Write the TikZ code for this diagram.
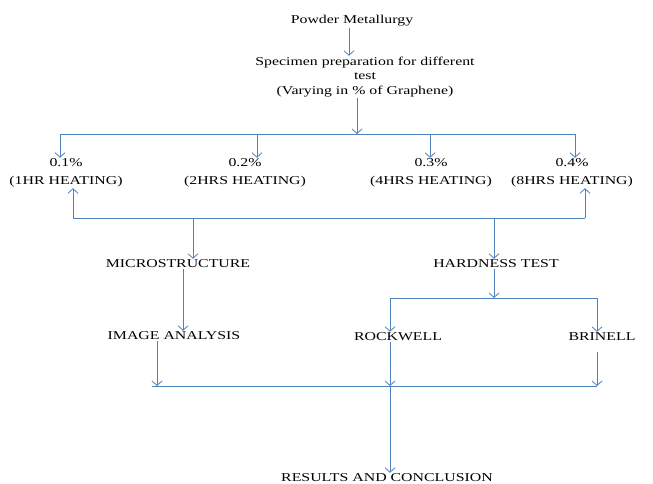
\documentclass[tikz,border=0pt]{standalone}
\usepackage{fontspec}
\setmainfont{Liberation Serif}[FakeStretch=1.32]
\usepackage{xcolor}
\usetikzlibrary{arrows.meta,positioning}
\definecolor{lineblue}{RGB}{79,129,189}

\begin{document}
\begin{tikzpicture}[
  x=1pt, y=-1pt,
  txt/.style={align=center, inner sep=1pt, font=\fontsize{12}{14.5}\selectfont},
  flow/.style={draw=lineblue, line width=0.8pt},
  >={Straight Barb[length=4.5pt,width=10pt]}
]
  \useasboundingbox (0,0) rectangle (653,484);

  \node[txt] (powder) at (352,21) {Powder Metallurgy};
  \node[txt] (spec) at (365,77) {Specimen preparation for different\\test\\(Varying in \% of Graphene)};

  \node[txt] (p1) at (66,173) {0.1\%\\[3pt](1HR HEATING)};
  \node[txt] (p2) at (245,173) {0.2\%\\[3pt](2HRS HEATING)};
  \node[txt] (p3) at (431,173) {0.3\%\\[3pt](4HRS HEATING)};
  \node[txt] (p4) at (572,173) {0.4\%\\[3pt](8HRS HEATING)};

  \node[txt] (micro) at (178,264) {MICROSTRUCTURE};
  \node[txt] (hard) at (496,264) {HARDNESS TEST};
  \node[txt] (image) at (174,336) {IMAGE ANALYSIS};
  \node[txt] (rock) at (398,337) {ROCKWELL};
  \node[txt] (brin) at (602,337) {BRINELL};
  \node[txt] (results) at (387,478) {RESULTS AND CONCLUSION};

  % junction points
  \coordinate (split) at (357,134);
  \coordinate (t1) at (60,134);
  \coordinate (t4) at (575,134);
  \coordinate (u1) at (73,218);
  \coordinate (u4) at (585,218);
  \coordinate (m) at (193,218);
  \coordinate (h) at (494,218);
  \coordinate (hs) at (494,298);
  \coordinate (r) at (390,298);
  \coordinate (bb) at (597,298);
  \coordinate (jl) at (152,386);
  \coordinate (j1) at (157,386);
  \coordinate (j2) at (390,386);
  \coordinate (j3) at (597,386);
  \coordinate (bs) at (597,352);

  \draw[flow,->] ([xshift=-3pt]powder.south) -- ([xshift=-3pt]powder.south |- spec.north);
  \draw[flow,->] (spec.south -| split) -- (split);
  \draw[flow] (t1) -- (t4);
  \foreach \x/\n in {60/p1,257/p2,430/p3,575/p4} {
    \coordinate (t) at (\x,134);
    \draw[flow,->] (t) -- (t |- \n.north);
  }

  \draw[flow] (u1) -- (u4);
  \draw[flow,->] (u1) -- (u1 |- p1.south);
  \draw[flow,->] (u4) -- (u4 |- p4.south);
  \draw[flow,->] (m) -- (m |- micro.north);
  \draw[flow,->] (h) -- (h |- hard.north);

  \draw[flow,->] ([xshift=5pt]micro.south) -- ([xshift=5pt]micro.south |- image.north);
  \draw[flow,->] (hs |- hard.south) -- (hs);
  \draw[flow] (r) -- (bb);
  \draw[flow,->] (r) -- (r |- rock.north);
  \draw[flow,->] (bb) -- (bb |- brin.north);

  \draw[flow] (jl) -- (j3);
  \draw[flow,->] (j1 |- image.south) -- (j1);
  \draw[flow,->] (j2 |- rock.south) -- (j2);
  \draw[flow,->] (bs) -- (j3);
  \draw[flow,->] (j2) -- (j2 |- results.north);
\end{tikzpicture}
\end{document}
